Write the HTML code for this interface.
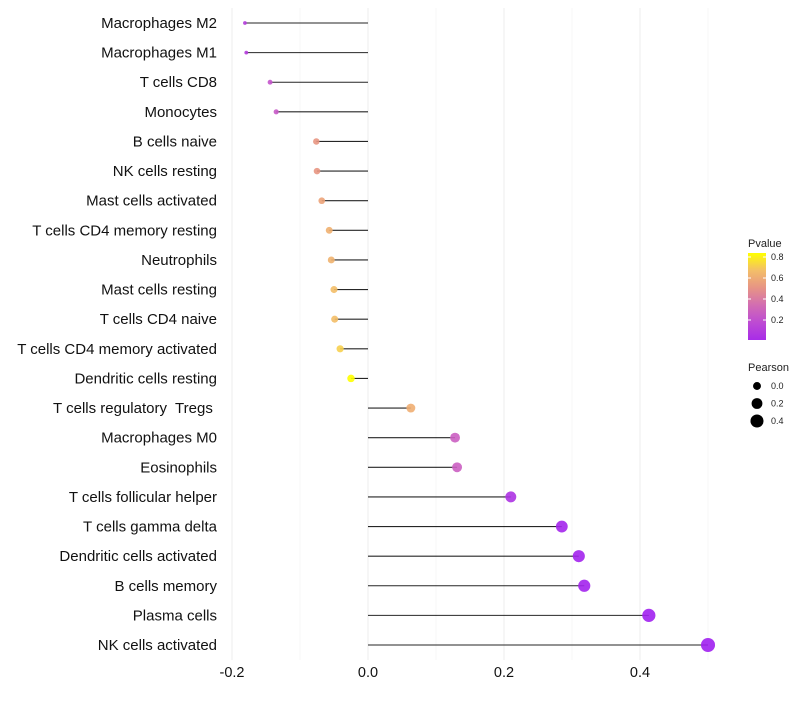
<!DOCTYPE html>
<html><head><meta charset="utf-8"><style>
body{margin:0;background:#fff;font-family:"Liberation Sans",sans-serif}
text{white-space:pre}
</style></head><body>
<svg id="c" width="800" height="700" xmlns="http://www.w3.org/2000/svg"></svg>
<script>
const cells=["Macrophages M2","Macrophages M1","T cells CD8","Monocytes","B cells naive","NK cells resting","Mast cells activated","T cells CD4 memory resting","Neutrophils","Mast cells resting","T cells CD4 naive","T cells CD4 memory activated","Dendritic cells resting","T cells regulatory  Tregs ","Macrophages M0","Eosinophils","T cells follicular helper","T cells gamma delta","Dendritic cells activated","B cells memory","Plasma cells","NK cells activated"];
const pearson=[-0.181,-0.179,-0.144,-0.135,-0.076,-0.075,-0.068,-0.057,-0.054,-0.05,-0.049,-0.041,-0.025,0.063,0.128,0.131,0.21,0.285,0.31,0.318,0.413,0.5];
const pvalue=[0.15,0.15,0.27,0.3,0.55,0.55,0.6,0.65,0.66,0.7,0.7,0.75,0.86,0.64,0.32,0.32,0.1,0.03,0.02,0.02,0.005,0.001];
const xTicks=[-0.2,0,0.2,0.4];
const xTickLabels=["-0.2","0.0","0.2","0.4"];
const minorTicks=[-0.1,0.1,0.3,0.5];
const legP=[0.2,0.4,0.6,0.8];
const legS=[0,0.2,0.4];

const svg=document.getElementById('c');const NS="http://www.w3.org/2000/svg";
function mk(t,a,p){const e=document.createElementNS(NS,t);for(const k in a)e.setAttribute(k,a[k]);(p||svg).appendChild(e);return e;}
const X=v=>368+v*680;
const Y=i=>23+i*(622/21);
const R=v=>Math.sqrt(Math.max(3.5,3.5+(v+0.181)/0.681*46));
const stops=[[0,[160,32,240]],[0.3,[200,90,200]],[0.55,[232,150,130]],[0.72,[245,195,100]],[0.86,[255,255,0]]];
function col(p){p=Math.min(0.86,Math.max(0,p));for(let i=1;i<stops.length;i++){if(p<=stops[i][0]){const a=stops[i-1],b=stops[i],t=(p-a[0])/(b[0]-a[0]);return 'rgb('+a[1].map((c,j)=>Math.round(c+(b[1][j]-c)*t)).join(',')+')';}}return 'rgb(255,255,0)';}

minorTicks.forEach((v,i)=>{const l=mk('line',{x1:X(v),x2:X(v),y1:8,y2:660,stroke:'#f5f5f5','stroke-width':0.8});
});
xTicks.forEach((v,i)=>{const l=mk('line',{x1:X(v),x2:X(v),y1:8,y2:660,stroke:'#eeeeee','stroke-width':1.1});

const t=mk('text',{x:X(v),y:677,'text-anchor':'middle','font-size':14.5,fill:'#111'});t.textContent=xTickLabels[i];
});

cells.forEach((c,i)=>{const y=Y(i);
const t=mk('text',{x:217,y:y+5,'text-anchor':'end','font-size':15,fill:'#111'});t.textContent=c;

const l=mk('line',{x1:X(0),x2:X(pearson[i]),y1:y,y2:y,stroke:'#000','stroke-width':1.1,'stroke-opacity':0.85});

const p=mk('circle',{cx:X(pearson[i]),cy:y,r:R(pearson[i]),fill:col(pvalue[i]),'fill-opacity':0.9});
});

// legend
const lt=mk('text',{x:748,y:247,'font-size':11,fill:'#222'});lt.textContent='Pvalue';

const defs=mk('defs',{});const g=mk('linearGradient',{id:'gr',x1:0,y1:1,x2:0,y2:0},defs);
[0,0.2,0.4,0.6,0.8,1].forEach(f=>{mk('stop',{offset:f,'stop-color':col(0.06+f*0.8)},g);});
const bar=mk('rect',{x:748,y:253,width:18,height:87,fill:'url(#gr)'});

const PY=v=>320-(v-0.2)*(63/0.6);
legP.forEach(v=>{mk('line',{x1:748,x2:751,y1:PY(v),y2:PY(v),stroke:'#fff'});mk('line',{x1:763,x2:766,y1:PY(v),y2:PY(v),stroke:'#fff'});
const t=mk('text',{x:771,y:PY(v)+3,'font-size':9,fill:'#222'});t.textContent=v.toFixed(1);
});
const st=mk('text',{x:748,y:371,'font-size':11,fill:'#222'});st.textContent='Pearson';

legS.forEach((v,i)=>{const y=386+i*17.5;const c=mk('circle',{cx:757,cy:y,r:R(v),fill:'#000'});

const t=mk('text',{x:771,y:y+3,'font-size':9,fill:'#222'});t.textContent=v.toFixed(1);
});
</script>
</body></html>
